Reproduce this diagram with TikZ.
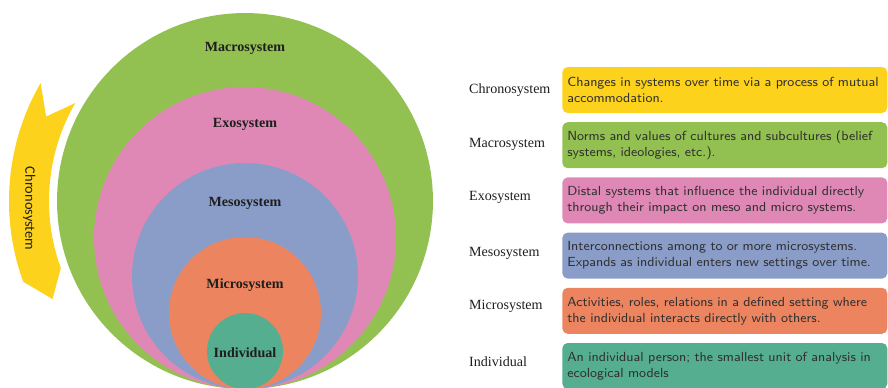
\documentclass[tikz,border=0pt]{standalone}
\usepackage{fontspec}
\setmainfont{Liberation Serif}
\newfontfamily\calfont{Carlito}
\usetikzlibrary{positioning}

\definecolor{chronoYellow}{HTML}{FDD21C}
\definecolor{macroGreen}{HTML}{92C151}
\definecolor{exoPink}{HTML}{DF88B6}
\definecolor{mesoBlue}{HTML}{8A9DC9}
\definecolor{microOrange}{HTML}{EC855F}
\definecolor{indivTeal}{HTML}{55AE8F}
\definecolor{ink}{HTML}{1E1E1E}
\definecolor{boxInk}{HTML}{303030}

\tikzset{
  ring/.style={circle, inner sep=0pt, minimum size=#1},
  ringlabel/.style={text=ink, font=\bfseries\fontsize{8}{10}\selectfont},
  syslabel/.style={anchor=west, text=ink, font=\fontsize{8}{10}\selectfont},
  descbox/.style={anchor=west, fill=#1, rounded corners=3pt, text width=6.3cm,
    minimum height=0.92cm, inner xsep=0.1cm, inner ysep=2pt, align=left,
    text=boxInk, font=\sffamily\fontsize{7.5}{9}\selectfont}
}

\begin{document}
\begin{tikzpicture}[x=0.02cm, y=0.02cm]
    \useasboundingbox (0,0) rectangle (888,387);

    % nested systems
    \node[ring=7.52cm, fill=macroGreen] (macro) at (245,186) {};
    \node[ring=6.04cm, fill=exoPink] (exo) at (245,149) {};
    \node[ring=4.52cm, fill=mesoBlue] (meso) at (245,111) {};
    \node[ring=3.04cm, fill=microOrange] (micro) at (245,74) {};
    \node[ring=1.52cm, fill=indivTeal] (indiv) at (245,36) {};

    \node[ringlabel] (macroTxt) at (245,339) {Macrosystem};
    \node[ringlabel] (exoTxt) at (245,263) {Exosystem};
    \node[ringlabel] (mesoTxt) at (245,184) {Mesosystem};
    \node[ringlabel] (microTxt) at (245,102) {Microsystem};
    \node[ringlabel] (indivTxt) at (245,34) {Individual};

    % time arrow round the outside
    \begin{scope}[shift={(245,186)}]
        \fill[chronoYellow] (150:236) arc[start angle=150, end angle=200, radius=236]
            -- (207:216) -- (200:196) arc[start angle=200, end angle=150, radius=196]
            -- (157:216) -- cycle;
        \node[rotate=-90, text=ink, font=\calfont\fontsize{8.2}{10}\selectfont] (chronoTxt) at (182:216) {Chronosystem};
    \end{scope}

    % legend
    \node[descbox=chronoYellow] (chronoBox) at (562,297) {Changes in systems over time via a process of mutual accommodation.};
    \node[descbox=macroGreen] (macroBox) at (562,241.8) {Norms and values of cultures and subcultures (belief systems, ideologies, etc.).};
    \node[descbox=exoPink] (exoBox) at (562,186.6) {Distal systems that influence the individual directly through their impact on meso and micro systems.};
    \node[descbox=mesoBlue] (mesoBox) at (562,131.4) {Interconnections among to or more microsystems. Expands as individual enters new settings over time.};
    \node[descbox=microOrange] (microBox) at (562,76.2) {Activities, roles, relations in a defined setting where the individual interacts directly with others.};
    \node[descbox=indivTeal] (indivBox) at (562,21) {An individual person; the smallest unit of analysis in ecological models};

    \node[syslabel] (chronoLbl) at (463,297) {Chronosystem};
    \node[syslabel] (macroLbl) at (463,243) {Macrosystem};
    \node[syslabel] (exoLbl) at (463,190) {Exosystem};
    \node[syslabel] (mesoLbl) at (463,134) {Mesosystem};
    \node[syslabel] (microLbl) at (463,81) {Microsystem};
    \node[syslabel] (indivLbl) at (463,25) {Individual};
\end{tikzpicture}
\end{document}
